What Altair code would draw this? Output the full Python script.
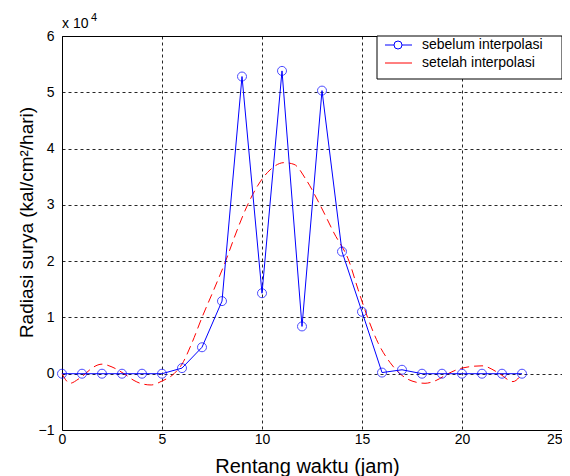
import altair as alt
import pandas as pd

# ---- data (values in units of 10^4 kal/cm2/hari) ----
hours = list(range(24))
before = [0, 0, 0, 0, 0, 0, 0.1, 0.47, 1.29, 5.28, 1.43, 5.38, 0.84, 5.03,
          2.17, 1.1, 0.02, 0.07, 0, 0, 0, 0, 0, 0]

after_x = [0, 0.4, 0.8, 1.17, 1.5, 2.0, 2.5, 3.1, 3.6, 4.0, 4.46, 5.0, 5.6,
           6.0, 6.5, 7.0, 7.6, 8.18, 8.7, 9.28, 9.8, 10.4, 11.1, 11.6, 12.2,
           12.9, 13.6, 14.35, 14.8, 15.28, 15.8, 16.4, 16.9, 17.5, 18.15,
           18.7, 19.3, 20.0, 21.0, 21.8, 22.55, 23.0]
after_y = [0, -0.17, -0.1, 0, 0.1, 0.17, 0.12, 0, -0.12, -0.18, -0.2, -0.13,
           0, 0.17, 0.55, 1.0, 1.5, 2.0, 2.5, 3.0, 3.35, 3.62, 3.75, 3.72,
           3.45, 3.0, 2.5, 2.0, 1.5, 1.0, 0.55, 0.2, 0, -0.13, -0.17, -0.12,
           0, 0.1, 0.14, 0.02, -0.14, 0]

series_names = ["sebelum interpolasi", "setelah interpolasi"]
x_ticks = [0, 5, 10, 15, 20, 25]
y_ticks = [-1, 0, 1, 2, 3, 4, 5, 6]
exponent_text = ["x 10", "4"]

df_before = pd.DataFrame({"jam": hours, "radiasi": before})
df_after = pd.DataFrame({"jam": after_x, "radiasi": after_y})

FONT = "Liberation Sans"
BLUE = "#0000ff"
RED = "#ff0000"

xs = alt.Scale(domain=[0, 25], nice=False, zero=False)
ys = alt.Scale(domain=[-1, 6], nice=False, zero=False)

x_axis = alt.Axis(values=x_ticks, title="Rentang waktu (jam)", grid=True,
                  ticks=False, domain=False, labelPadding=2, labelFontSize=14,
                  labelFlush=False,
                  labelAlign={"condition": {"test": f"datum.value == {x_ticks[-1]}",
                                            "value": "right"},
                              "value": "center"},
                  titleFontSize=20, titleFontWeight="normal",
                  titleX=245, titleY=42, titleBaseline="alphabetic",
                  titleAlign="center")
y_axis = alt.Axis(values=y_ticks, title="Radiasi surya (kal/cm²/hari)",
                  grid=True, ticks=False, domain=False, labelPadding=8,
                  labelFontSize=14, labelFlush=False, titleFontSize=19,
                  titleFontWeight="normal", titleAngle=270, titleX=-30,
                  titleY=186, titleAlign="center", titleBaseline="alphabetic")

X = alt.X("jam:Q", scale=xs, axis=x_axis)
Y = alt.Y("radiasi:Q", scale=ys, axis=y_axis)

red_line = alt.Chart(df_after).mark_line(
    color=RED, strokeWidth=1, strokeDash=[9, 5], interpolate="monotone"
).encode(x=X, y=Y)

blue_line = alt.Chart(df_before).mark_line(color=BLUE, strokeWidth=1).encode(x=X, y=Y)
blue_pts = alt.Chart(df_before).mark_point(
    shape="circle", size=81, filled=False, color=BLUE, strokeWidth=1
).encode(x=X, y=Y)

# ---- legend (drawn) ----
one = pd.DataFrame({"k": [0]})
leg_box = alt.Chart(one).mark_rect(fill="white", stroke="black", strokeWidth=1).encode(
    x=alt.value(315), x2=alt.value(500), y=alt.value(0), y2=alt.value(43))
leg_b1 = alt.Chart(one).mark_rule(color=BLUE, strokeWidth=1).encode(
    x=alt.value(323), x2=alt.value(350), y=alt.value(9))
leg_bp = alt.Chart(one).mark_point(shape="circle", size=64, filled=True,
                                   fill="white", stroke=BLUE, strokeWidth=1,
                                   opacity=1).encode(
    x=alt.value(336), y=alt.value(9))
leg_r1 = alt.Chart(one).mark_rule(color=RED, strokeWidth=1).encode(
    x=alt.value(323), x2=alt.value(350), y=alt.value(27))
leg_t1 = alt.Chart(pd.DataFrame({"label": [series_names[0]]})).mark_text(
    align="left", baseline="middle", fontSize=14, font=FONT, color="black").encode(
    x=alt.value(360), y=alt.value(9), text="label:N")
leg_t2 = alt.Chart(pd.DataFrame({"label": [series_names[1]]})).mark_text(
    align="left", baseline="middle", fontSize=14, font=FONT, color="black").encode(
    x=alt.value(360), y=alt.value(27), text="label:N")

# ---- x 10^4 multiplier ----
exp_base = alt.Chart(pd.DataFrame({"t": [exponent_text[0]]})).mark_text(
    align="left", baseline="alphabetic", fontSize=14, font=FONT, color="black").encode(
    x=alt.value(0), y=alt.value(-8), text="t:N")
exp_pow = alt.Chart(pd.DataFrame({"t": [exponent_text[1]]})).mark_text(
    align="left", baseline="alphabetic", fontSize=11, font=FONT, color="black").encode(
    x=alt.value(29), y=alt.value(-15), text="t:N")

chart = alt.layer(
    red_line, blue_line, blue_pts,
    leg_box, leg_b1, leg_bp, leg_r1, leg_t1, leg_t2,
    exp_base, exp_pow
).properties(
    width=500, height=394,
    autosize=alt.AutoSizeParams(type="none"),
    padding={"left": 54, "top": 28, "right": 0, "bottom": 46},
    background="white",
).configure_view(
    stroke="black", strokeWidth=1
).configure_axis(
    gridColor="#000000", gridDash=[3, 3], gridWidth=1, gridOpacity=0.85,
    labelColor="black", titleColor="black", labelFont=FONT, titleFont=FONT,
)

chart.save("out.html", embed_options={"renderer": "svg", "actions": False})
